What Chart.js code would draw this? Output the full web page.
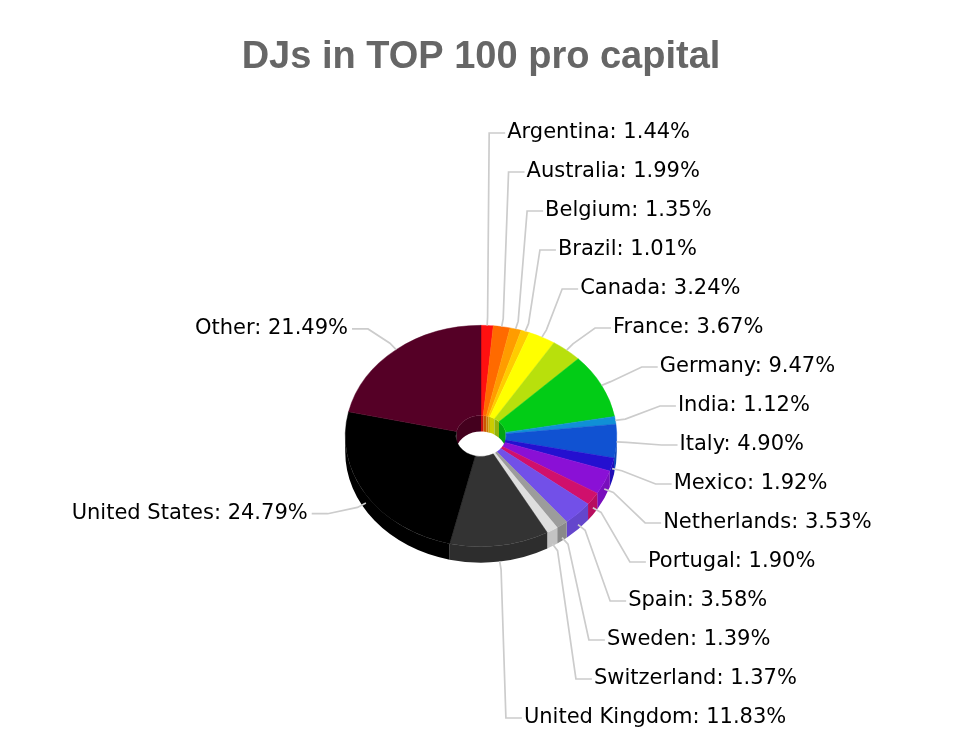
<!DOCTYPE html>
<html>
<head>
<meta charset="utf-8">
<style>
  html, body { margin: 0; padding: 0; background: #fff; }
  #pie { display: block; }
</style>
<script src="https://cdn.jsdelivr.net/npm/chart.js@4.4.1/dist/chart.umd.min.js"></script>
</head>
<body>
<canvas id="pie" width="954" height="752"></canvas>
<script>
'use strict';

const TITLE = 'DJs in TOP 100 pro capital';
const countries = ['Argentina', 'Australia', 'Belgium', 'Brazil', 'Canada', 'France', 'Germany', 'India', 'Italy',
  'Mexico', 'Netherlands', 'Portugal', 'Spain', 'Sweden', 'Switzerland', 'United Kingdom', 'United States', 'Other'];
const shares = [1.44, 1.99, 1.35, 1.01, 3.24, 3.67, 9.47, 1.12, 4.90, 1.92, 3.53, 1.90, 3.58, 1.39, 1.37, 11.83, 24.79, 21.49];
const sliceColors = ['#ff1010', '#ff6a00', '#ff9c00', '#ffcc00', '#ffff00', '#b8e00c', '#02cc16', '#1090d6', '#1052d2',
  '#2410d0', '#8a10d6', '#d0106c', '#7250e8', '#9c9c9c', '#dedede', '#333333', '#000000', '#550026'];

const SQUASH = 0.815;      // vertical tilt of the disc
const DEPTH = 16;          // thickness of the disc
const LABEL_GAP = 45;      // label ring beyond the rim
const LABEL_SQUASH = 0.78;
const LABEL_DY = 3;
const LINE_H = 39;

function shade(hex, f) {
  const n = parseInt(hex.slice(1), 16);
  const r = Math.round(((n >> 16) & 255) * f), g = Math.round(((n >> 8) & 255) * f), b = Math.round((n & 255) * f);
  return 'rgb(' + r + ',' + g + ',' + b + ')';
}

function clipRange(a0, a1, lo, hi) {
  const s = Math.max(a0, lo), e = Math.min(a1, hi);
  return e > s ? [s, e] : null;
}

function wall(ctx, cx, cy, r, a0, a1) {
  ctx.beginPath();
  ctx.ellipse(cx, cy, r, r * SQUASH, 0, a0, a1);
  ctx.ellipse(cx, cy + DEPTH, r, r * SQUASH, 0, a1, a0, true);
  ctx.closePath();
  ctx.fill();
}

function spread(list, size, lo, hi) {
  list.sort((p, q) => p.target - q.target);
  const groups = list.map((it) => ({ items: [it], sum: it.target }));
  const place = (g) => {
    const h = g.items.length * size;
    g.top = Math.max(lo, Math.min(hi - h, g.sum / g.items.length - h / 2));
  };
  groups.forEach(place);
  let merged = true;
  while (merged) {
    merged = false;
    for (let i = 0; i < groups.length - 1; i++) {
      const a = groups[i], b = groups[i + 1];
      if (a.top + a.items.length * size > b.top) {
        a.items = a.items.concat(b.items);
        a.sum += b.sum;
        place(a);
        groups.splice(i + 1, 1);
        merged = true;
        break;
      }
    }
  }
  groups.forEach((g) => g.items.forEach((it, j) => { it.y = g.top + size * (j + 0.5); }));
}

const tilt3d = {
  id: 'tilt3d',
  beforeDatasetsDraw(chart) {
    const ctx = chart.ctx;
    const arcs = chart.getDatasetMeta(0).data;
    ctx.save();
    arcs.forEach((el, i) => {
      const p = el.getProps(['x', 'y', 'startAngle', 'endAngle', 'outerRadius', 'innerRadius'], true);
      ctx.fillStyle = shade(sliceColors[i], 0.8);
      const back = [clipRange(p.startAngle, p.endAngle, -Math.PI / 2, 0), clipRange(p.startAngle, p.endAngle, Math.PI, Math.PI * 1.5)];
      back.forEach((rg) => { if (rg) wall(ctx, p.x, p.y, p.innerRadius, rg[0], rg[1]); });
      ctx.fillStyle = shade(sliceColors[i], 0.88);
      const front = clipRange(p.startAngle, p.endAngle, 0, Math.PI);
      if (front) wall(ctx, p.x, p.y, p.outerRadius, front[0], front[1]);
    });
    ctx.restore();
    const c = arcs[0].getProps(['x', 'y'], true);
    ctx.save();
    ctx.translate(c.x, c.y);
    ctx.scale(1, SQUASH);
    ctx.translate(-c.x, -c.y);
  },
  afterDatasetsDraw(chart) {
    const ctx = chart.ctx;
    ctx.restore();
    const arcs = chart.getDatasetMeta(0).data;
    const left = [], right = [];
    arcs.forEach((el, i) => {
      const p = el.getProps(['x', 'y', 'startAngle', 'endAngle', 'outerRadius'], true);
      const a = (p.startAngle + p.endAngle) / 2;
      const cos = Math.cos(a), sin = Math.sin(a);
      const rl = p.outerRadius + LABEL_GAP;
      const item = {
        i, cos, sin, cx: p.x, cy: p.y, r: p.outerRadius,
        ax: p.x + cos * rl,
        target: p.y + LABEL_DY + sin * rl * LABEL_SQUASH,
      };
      (cos >= 0 ? right : left).push(item);
    });
    spread(right, LINE_H, 100, chart.height);
    spread(left, LINE_H, 100, chart.height);

    ctx.save();
    ctx.font = '21px "DejaVu Sans", Verdana, sans-serif';
    ctx.textBaseline = 'middle';
    left.concat(right).forEach((it) => {
      const dir = it.cos >= 0 ? 1 : -1;
      const drop = it.sin > 0 ? DEPTH * it.sin : 0;
      const ex = it.cx + it.cos * it.r, ey = it.cy + it.sin * it.r * SQUASH + drop;
      const bx = it.cx + it.cos * (it.r + 10), by = it.cy + it.sin * (it.r + 10) * SQUASH + drop;
      ctx.beginPath();
      ctx.moveTo(ex, ey);
      ctx.lineTo(bx, by);
      ctx.lineTo(it.ax, it.y);
      ctx.lineTo(it.ax + dir * 16, it.y);
      ctx.strokeStyle = '#cccccc';
      ctx.lineWidth = 1.7;
      ctx.stroke();
      ctx.fillStyle = '#000';
      ctx.textAlign = dir > 0 ? 'left' : 'right';
      ctx.fillText(countries[it.i] + ': ' + shares[it.i].toFixed(2) + '%', it.ax + dir * (dir > 0 ? 18 : 20), it.y);
    });
    ctx.font = 'bold 38px "Liberation Sans", Arial, sans-serif';
    ctx.fillStyle = '#666666';
    ctx.textAlign = 'center';
    ctx.textBaseline = 'alphabetic';
    ctx.fillText(TITLE, (chart.chartArea.left + chart.chartArea.right) / 2, 68);
    ctx.restore();
  },
};

new Chart(document.getElementById('pie'), {
  type: 'doughnut',
  data: {
    labels: countries,
    datasets: [{
      data: shares,
      backgroundColor: sliceColors,
      borderColor: sliceColors,
      borderWidth: 0.5,
      clip: false,
    }],
  },
  options: {
    responsive: false,
    animation: false,
    cutout: '18.5%',
    layout: { padding: { left: 345, right: 337, top: 300, bottom: 180 } },
    plugins: { legend: { display: false }, tooltip: { enabled: false }, title: { display: false } },
    events: [],
  },
  plugins: [tilt3d],
});
</script>
</body>
</html>
